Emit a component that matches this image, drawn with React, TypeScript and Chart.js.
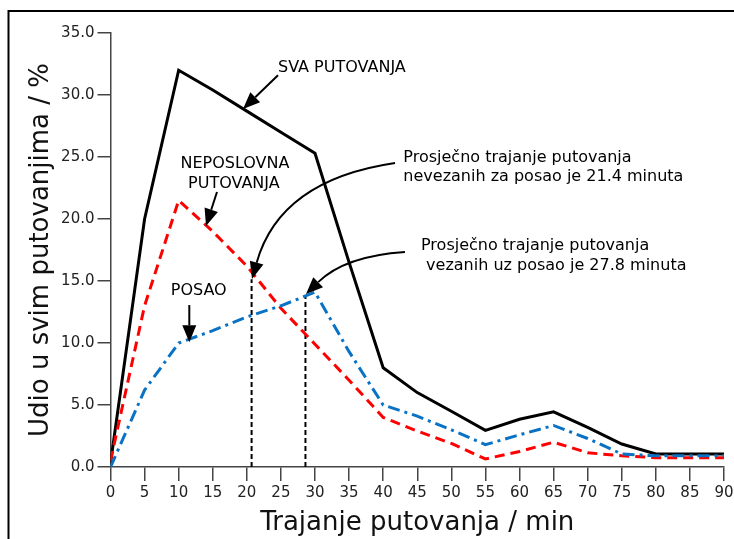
import React, { useEffect, useRef } from "react";
import { Chart, registerables } from "chart.js";

Chart.register(...registerables);

// Minutes (x categories)
const minutes = [0, 5, 10, 15, 20, 25, 30, 35, 40, 45, 50, 55, 60, 65, 70, 75, 80, 85, 90];
// Share of all trips / %
const svaPutovanja = [0.3, 20.0, 32.0, 30.4, 28.7, 27.0, 25.3, 16.5, 8.0, 6.0, 4.5, 2.95, 3.85, 4.45, 3.2, 1.85, 1.05, 1.05, 1.05];
const neposlovna = [0.5, 13.0, 21.5, 19.0, 16.2, 12.8, 9.9, 7.0, 4.0, 2.9, 1.9, 0.65, 1.25, 2.0, 1.15, 0.9, 0.75, 0.75, 0.75];
const posao = [0.0, 6.2, 10.0, 11.0, 12.1, 13.0, 14.1, 9.3, 5.0, 4.1, 3.0, 1.8, 2.6, 3.35, 2.3, 1.05, 0.9, 0.9, 0.9];

// Average duration markers (as drawn)
const avgNonWork = { x: 20.7, top: 15.15 };
const avgWork = { x: 28.6, top: 13.75 };

const yTickMax = 35;
const xTickMax = 90;

const FONT = "'DejaVu Sans', sans-serif";

const annotationPlugin = {
  id: "annotations",
  afterDatasetsDraw(chart: any) {
    const ctx = chart.ctx as CanvasRenderingContext2D;
    const xs = chart.scales.x;
    const ys = chart.scales.y;
    const X = (v: number) => xs.getPixelForValue(v);
    const Y = (v: number) => ys.getPixelForValue(v);

    ctx.save();
    ctx.fillStyle = "#000";
    ctx.strokeStyle = "#000";
    ctx.font = "16px " + FONT;
    ctx.textBaseline = "middle";

    const text = (s: string, x: number, y: number, align: CanvasTextAlign) => {
      ctx.textAlign = align;
      ctx.fillText(s, X(x), Y(y));
    };

    const head = (tx: number, ty: number, fx: number, fy: number) => {
      const len = 17;
      const half = 7;
      const a = Math.atan2(ty - fy, tx - fx);
      const bx = tx - len * Math.cos(a);
      const by = ty - len * Math.sin(a);
      ctx.beginPath();
      ctx.moveTo(tx, ty);
      ctx.lineTo(bx + half * Math.sin(a), by - half * Math.cos(a));
      ctx.lineTo(bx - half * Math.sin(a), by + half * Math.cos(a));
      ctx.closePath();
      ctx.fill();
      return [bx, by];
    };

    const straightArrow = (x1: number, y1: number, x2: number, y2: number) => {
      const sx = X(x1), sy = Y(y1), tx = X(x2), ty = Y(y2);
      const [bx, by] = head(tx, ty, sx, sy);
      ctx.lineWidth = 2;
      ctx.beginPath();
      ctx.moveTo(sx, sy);
      ctx.lineTo(bx, by);
      ctx.stroke();
    };

    const curvedArrow = (x1: number, y1: number, cx: number, cy: number, x2: number, y2: number) => {
      const sx = X(x1), sy = Y(y1), px = X(cx), py = Y(cy), tx = X(x2), ty = Y(y2);
      const [bx, by] = head(tx, ty, px, py);
      ctx.lineWidth = 2;
      ctx.beginPath();
      ctx.moveTo(sx, sy);
      ctx.quadraticCurveTo(px, py, bx, by);
      ctx.stroke();
    };

    // SVA PUTOVANJA
    text("SVA PUTOVANJA", 24.57, 32.18, "left");
    straightArrow(24.57, 31.6, 19.44, 28.87);

    // NEPOSLOVNA PUTOVANJA
    text("NEPOSLOVNA", 18.26, 24.44, "center");
    text("PUTOVANJA", 18.1, 22.82, "center");
    straightArrow(15.62, 22.18, 14.01, 19.44);

    // POSAO
    text("POSAO", 12.94, 14.22, "center");
    straightArrow(11.56, 13.06, 11.56, 10.06);

    // Average notes
    text("Prosječno trajanje putovanja", 42.96, 24.95, "left");
    text("nevezanih za posao je 21.4 minuta", 42.96, 23.42, "left");
    curvedArrow(41.74, 24.52, 24.86, 23.15, 20.76, 15.16);

    text("Prosječno trajanje putovanja", 45.55, 17.85, "left");
    text(" vezanih uz posao je 27.8 minuta", 45.55, 16.25, "left");
    curvedArrow(43.2, 17.34, 34.4, 17.02, 28.68, 13.95);

    ctx.restore();
  },
  afterDraw(chart: any) {
    const ctx = chart.ctx as CanvasRenderingContext2D;
    ctx.save();
    ctx.strokeStyle = "#000";
    ctx.lineWidth = 2;
    ctx.strokeRect(8.5, 11, 800, 600);
    ctx.restore();
  },
};

export default function App() {
  const ref = useRef<HTMLCanvasElement | null>(null);

  useEffect(() => {
    document.body.style.margin = "0";
    const canvas = ref.current;
    if (!canvas) return;
    Chart.defaults.font.family = FONT;

    const pts = (arr: number[]) => arr.map((v, i) => ({ x: minutes[i], y: v }));

    const chart = new Chart(canvas, {
      type: "line",
      data: {
        datasets: [
          {
            label: "POSAO",
            data: pts(posao),
            borderColor: "#0a72c4",
            borderWidth: 3,
            borderDash: [12, 5, 3, 5],
            pointRadius: 0,
            tension: 0,
            borderJoinStyle: "miter",
          },
          {
            label: "NEPOSLOVNA PUTOVANJA",
            data: pts(neposlovna),
            borderColor: "#ff0000",
            borderWidth: 3,
            borderDash: [10, 6],
            pointRadius: 0,
            tension: 0,
            borderJoinStyle: "miter",
          },
          {
            label: "SVA PUTOVANJA",
            data: pts(svaPutovanja),
            borderColor: "#000000",
            borderWidth: 3,
            pointRadius: 0,
            tension: 0,
            borderJoinStyle: "miter",
          },
          {
            label: "avgNonWork",
            data: [{ x: avgNonWork.x, y: 0 }, { x: avgNonWork.x, y: avgNonWork.top }],
            borderColor: "#000",
            borderWidth: 2,
            borderDash: [5, 3],
            pointRadius: 0,
          },
          {
            label: "avgWork",
            data: [{ x: avgWork.x, y: 0 }, { x: avgWork.x, y: avgWork.top }],
            borderColor: "#000",
            borderWidth: 2,
            borderDash: [5, 3],
            pointRadius: 0,
          },
        ],
      } as any,
      options: {
        responsive: false,
        animation: false,
        layout: { padding: { left: 0, right: 10, top: 33, bottom: 0 } },
        plugins: {
          legend: { display: false },
          tooltip: { enabled: false },
        },
        scales: {
          x: {
            type: "linear",
            min: 0,
            max: xTickMax,
            ticks: {
              stepSize: 5,
              color: "#222",
              font: { size: 15, family: FONT },
              padding: 3,
              autoSkip: false,
              maxRotation: 0,
            },
            grid: { drawOnChartArea: false, tickLength: 14, color: "#444", lineWidth: 1.5 },
            border: { color: "#444", width: 1.5 },
            title: {
              display: true,
              text: "Trajanje putovanja / min",
              color: "#111",
              font: { size: 26, family: FONT },
              padding: { top: 0, bottom: 0 },
            },
            afterFit: (s: any) => {
              s.height = 72;
              s.paddingLeft = 0;
              s.paddingRight = 0;
            },
          },
          y: {
            type: "linear",
            min: 0,
            max: yTickMax,
            ticks: {
              stepSize: 5,
              color: "#222",
              font: { size: 15, family: FONT },
              padding: 3,
              callback: (v: any) => Number(v).toFixed(1),
            },
            grid: { drawOnChartArea: false, tickLength: 13, color: "#444", lineWidth: 1.5 },
            border: { color: "#444", width: 1.5 },
            title: {
              display: true,
              text: "Udio u svim putovanjima / %",
              color: "#111",
              font: { size: 26, family: FONT },
              padding: { top: 26, bottom: 0 },
            },
            afterFit: (s: any) => {
              s.width = 110.5;
              s.paddingTop = 0;
              s.paddingBottom = 0;
            },
          },
        },
      } as any,
      plugins: [annotationPlugin],
    });

    return () => chart.destroy();
  }, []);

  return (
    <div style={{ width: 734, height: 539 }}>
      <canvas ref={ref} width={734} height={539} style={{ display: "block", width: 734, height: 539 }} />
    </div>
  );
}
